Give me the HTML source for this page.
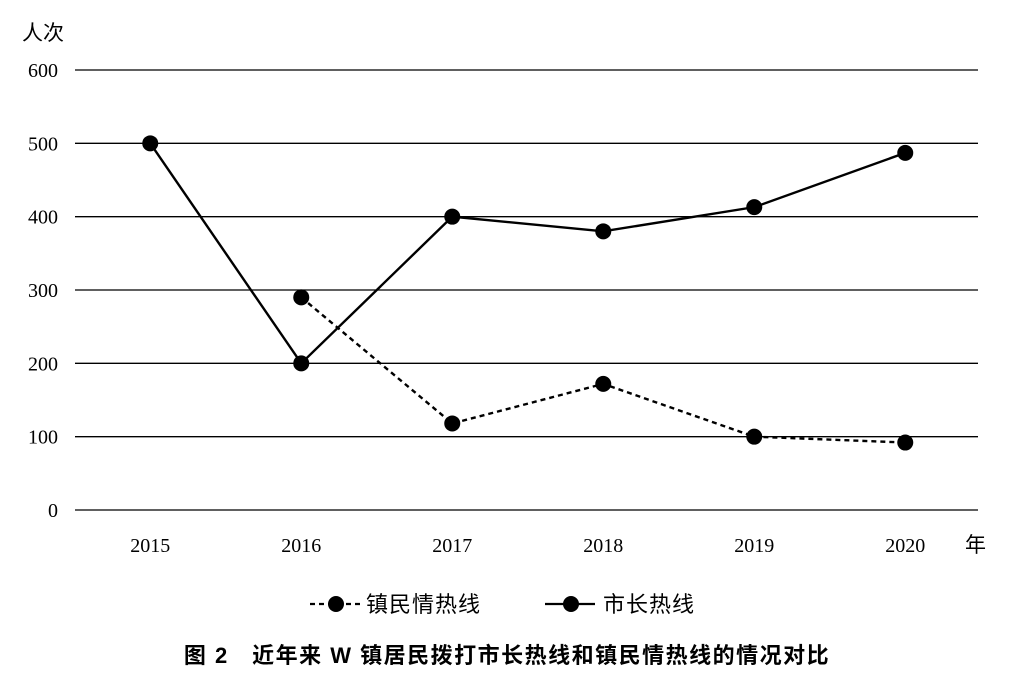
<!DOCTYPE html>
<html><head><meta charset="utf-8"><style>
body{margin:0;background:#fff;}
svg text{font-family:"Liberation Serif","Noto Serif CJK SC",serif;fill:#000;}
svg text.cjk{font-family:"Liberation Sans","Noto Sans CJK SC",sans-serif;}
</style></head><body>
<svg id="chart" width="1020" height="684" viewBox="0 0 1020 684" xmlns="http://www.w3.org/2000/svg">
<g id="grid"></g>
<g id="yticks"></g>
<g id="xticks"></g>
<g id="series"></g>
<text class="cjk" x="22" y="40" font-size="21">人次</text>
<text class="cjk" x="965" y="552" font-size="21">年</text>
<g>
 <g>
  <line x1="310" y1="604" x2="360" y2="604" stroke="#000" stroke-width="2.2" stroke-dasharray="5,4"/>
  <circle cx="336" cy="604" r="8" fill="#000"/>
  <text class="cjk" x="366" y="612" font-size="22" letter-spacing="1">镇民情热线</text>
 </g>
 <g>
  <line x1="545" y1="604" x2="595" y2="604" stroke="#000" stroke-width="2.2"/>
  <circle cx="571" cy="604" r="8" fill="#000"/>
  <text class="cjk" x="603" y="612" font-size="22" letter-spacing="1">市长热线</text>
 </g>
</g>
<text class="cjk" x="507" y="663" font-size="22" font-weight="bold" letter-spacing="1.5" text-anchor="middle">图 2　近年来 W 镇居民拨打市长热线和镇民情热线的情况对比</text>
</svg>
<script>
const categories=["2015","2016","2017","2018","2019","2020"];
const mayorValues=[500,200,400,380,413,487];
const residentValues=[null,290,118,172,100,92];
const yTicks=[0,100,200,300,400,500,600];
const NS="http://www.w3.org/2000/svg";
const left=75,right=978,y0=510,yTop=70,yMax=600;
const band=(right-left)/categories.length;
function xS(i){return left+band*(i+0.5)+i*0.5;}
function yS(v){return y0-(v/yMax)*(y0-yTop);}
function mk(t,a,p){const e=document.createElementNS(NS,t);for(const k in a)e.setAttribute(k,a[k]);p.appendChild(e);return e;}
const grid=document.getElementById('grid'),yt=document.getElementById('yticks'),xt=document.getElementById('xticks'),ser=document.getElementById('series');
yTicks.forEach(v=>{
 const l=mk('line',{x1:left,x2:right,y1:yS(v),y2:yS(v),stroke:'#000','stroke-width':1.3},grid);
 
 
 const t=mk('text',{x:58,y:yS(v)+7,'font-size':20,'text-anchor':'end'},yt);
 t.textContent=v;
 
 
});
categories.forEach((c,i)=>{
 const t=mk('text',{x:xS(i),y:552,'font-size':20,'text-anchor':'middle'},xt);
 t.textContent=c;
 
 
});
function drawSeries(vals,name,dash){
 const pts=[];vals.forEach((v,i)=>{if(v!=null)pts.push([xS(i),yS(v),i]);});
 const p=mk('polyline',{points:pts.map(q=>q[0]+','+q[1]).join(' '),fill:'none',stroke:'#000','stroke-width':2.4},ser);
 if(dash)p.setAttribute('stroke-dasharray','5,4');
 
 
 pts.forEach(q=>{
  const c=mk('circle',{cx:q[0],cy:q[1],r:8,fill:'#000'},ser);
  
  
 });
}
drawSeries(residentValues,'resident-hotline',true);
drawSeries(mayorValues,'mayor-hotline',false);
</script>
</body></html>
